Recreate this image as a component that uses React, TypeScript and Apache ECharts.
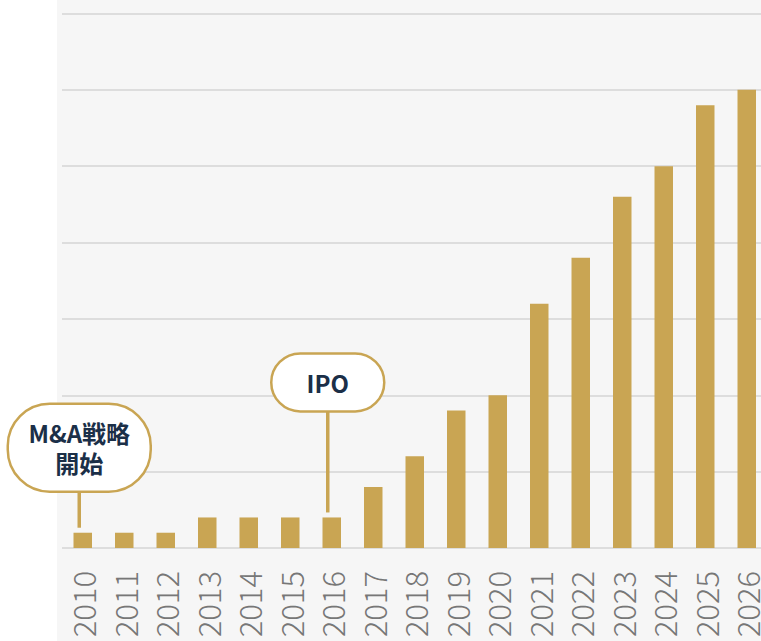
import React, { useEffect, useRef } from "react";
import * as echarts from "echarts";

const years = ["2010","2011","2012","2013","2014","2015","2016","2017","2018","2019","2020","2021","2022","2023","2024","2025","2026"];
const values = [1, 1, 1, 2, 2, 2, 2, 4, 6, 9, 10, 16, 19, 23, 25, 29, 30];
const annotations = [
  { year: "2010", label: "M&A戦略\n開始", w: 143, h: 88, gap: 41, dx: -3.5 },
  { year: "2016", label: "IPO", w: 113, h: 58, gap: 106, dx: -4 },
];

const GOLD = "#C9A553";
const NAVY = "#1B2F48";
const FONT = '"Noto Sans CJK JP", "Noto Sans", sans-serif';

export default function App() {
  const ref = useRef<HTMLDivElement>(null);
  useEffect(() => {
    const chart = echarts.init(ref.current!, null, { renderer: "svg" });
    chart.setOption({
      animation: false,
      grid: {
        left: 62,
        top: 13.5,
        width: 705.5,
        height: 534.5,
        containLabel: false,
        outerBoundsMode: "none",
      },
      xAxis: {
        type: "category",
        data: years,
        axisLine: { show: false },
        axisTick: { show: false },
        axisLabel: {
          rotate: 90,
          margin: 23,
          fontSize: 31,
          color: "#777777",
          fontFamily: FONT,
          fontWeight: 300,
          interval: 0,
        },
      },
      yAxis: {
        type: "value",
        min: 0,
        max: 35,
        interval: 5,
        axisLabel: { show: false },
        axisLine: { show: false },
        axisTick: { show: false },
        splitLine: { lineStyle: { color: "#dddddd", width: 2 } },
      },
      series: [
        {
          type: "bar",
          data: values,
          barWidth: 18.5,
          itemStyle: { color: GOLD },
          z: 3,
        },
      ],
    });

    const elements: any[] = [
      {
        type: "rect",
        shape: { x: 57, y: 0, width: 704, height: 641 },
        style: { fill: "#f6f6f6" },
        z: -10,
        silent: true,
      },
    ];
    annotations.forEach((a) => {
      const idx = years.indexOf(a.year);
      const p = chart.convertToPixel({ gridIndex: 0 }, [idx, values[idx]]) as number[];
      const cx = p[0] + a.dx;
      const barTop = p[1];
      const boxBottom = barTop - a.gap;
      const boxTop = boxBottom - a.h;
      elements.push({
        type: "line",
        shape: { x1: cx, y1: boxBottom, x2: cx, y2: barTop - 5 },
        style: { stroke: GOLD, lineWidth: 3.5 },
        z: 100,
      });
      elements.push({
        type: "rect",
        shape: { x: cx - a.w / 2, y: boxTop, width: a.w, height: a.h, r: Math.min(a.h / 2, 42) },
        style: { fill: "#ffffff", stroke: GOLD, lineWidth: 2.5 },
        z: 101,
      });
      elements.push({
        type: "text",
        x: cx,
        y: boxTop + a.h / 2,
        style: {
          text: a.label,
          fill: NAVY,
          font: `bold 24px ${FONT}`,
          align: "center",
          verticalAlign: "middle",
          textAlign: "center",
          textVerticalAlign: "middle",
          lineHeight: 30,
        },
        z: 102,
      });
    });
    chart.setOption({ graphic: { elements } });
    return () => chart.dispose();
  }, []);
  return (
    <div
      ref={ref}
      style={{ position: "absolute", left: 0, top: 0, width: 761, height: 641 }}
    />
  );
}
